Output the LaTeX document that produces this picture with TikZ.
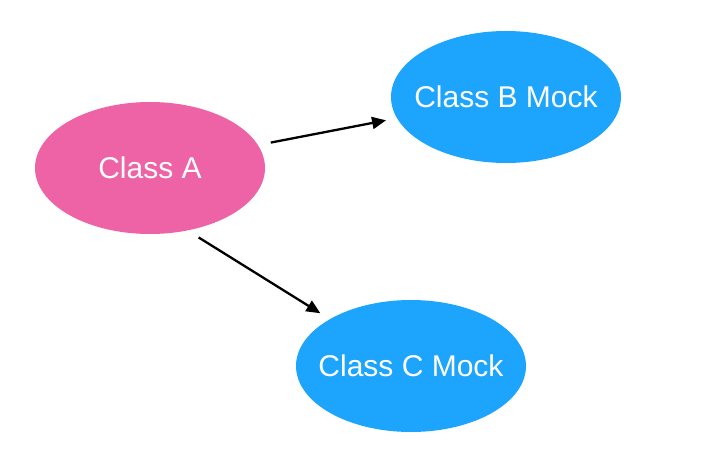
\documentclass[tikz,border=0pt]{standalone}
\usepackage{fontspec}
\setmainfont{Liberation Sans}
\usepackage{tikz}
\usetikzlibrary{arrows.meta,positioning,shapes.geometric}

\definecolor{classpink}{RGB}{238,99,165}
\definecolor{mockblue}{RGB}{29,164,252}

\tikzset{
  classnode/.style={ellipse,fill=#1,draw=none,inner sep=0pt,
    minimum width=230pt,minimum height=132pt},
  classtext/.style={text=white,inner sep=0pt,font=\fontsize{30}{36}\selectfont},
  dep/.style={-{Triangle[length=14pt,width=12pt]},line width=2.3pt,black,
    shorten <=13pt,shorten >=11pt}
}

\begin{document}
\begin{tikzpicture}[x=1pt,y=-1pt]
  \useasboundingbox (0,0) rectangle (728,458);
  \node[classnode=classpink,label={[classtext]center:Class A}] (A) at (150,168) {};
  \node[classnode=mockblue,label={[classtext]center:Class B Mock}] (B) at (506,97) {};
  \node[classnode=mockblue,label={[classtext]center:Class C Mock}] (C) at (411,366) {};
  \draw[dep] (A.12.5) -- (B.191.5);
  \draw[dep] (A.301.4) -- (C.150.1);
\end{tikzpicture}
\end{document}
